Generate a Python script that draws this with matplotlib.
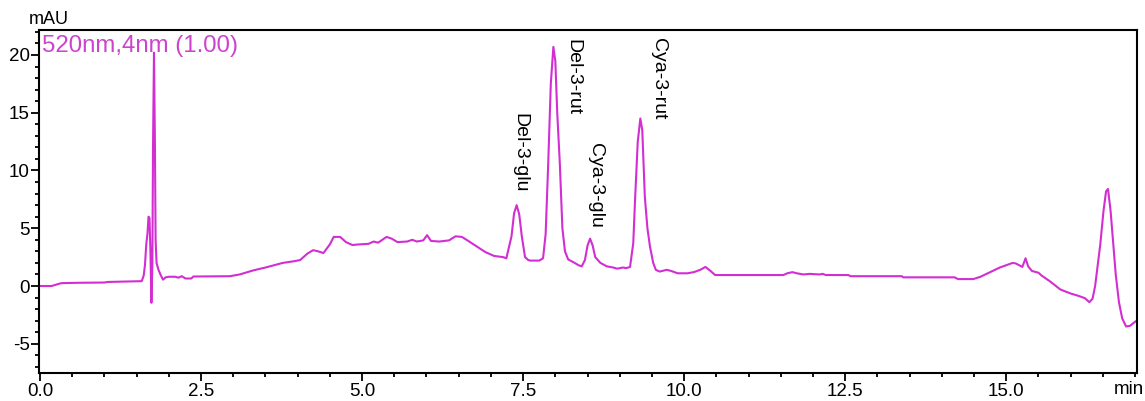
import matplotlib
matplotlib.use("Agg")
import matplotlib.pyplot as plt
from matplotlib.ticker import MultipleLocator

plt.rcParams['font.family'] = ['Liberation Sans', 'DejaVu Sans']

# Retention time (min) and detector response (mAU) at 520 nm
time_min = [
    0.00, 0.18, 0.30, 0.34, 0.60, 1.00, 1.05, 1.30, 1.58, 1.61, 1.63, 1.65,
    1.67, 1.685, 1.70, 1.715, 1.73, 1.745, 1.755, 1.77, 1.785, 1.795, 1.81,
    1.84, 1.87, 1.91, 1.95, 2.00, 2.10, 2.15, 2.20, 2.26, 2.35, 2.38, 2.95,
    3.10, 3.31, 3.50, 3.77, 3.95, 4.04, 4.15, 4.24, 4.32, 4.40, 4.50, 4.56,
    4.66, 4.75, 4.85, 4.95, 5.10, 5.18, 5.25, 5.38, 5.46, 5.55, 5.70, 5.78,
    5.85, 5.95, 6.01, 6.07, 6.20, 6.35, 6.45, 6.55, 6.65, 6.80, 6.91, 7.05,
    7.19, 7.24, 7.27, 7.32, 7.36, 7.40, 7.44, 7.48, 7.53, 7.58, 7.61, 7.75,
    7.81, 7.85, 7.89, 7.93, 7.97, 8.00, 8.03, 8.07, 8.11, 8.15, 8.20, 8.30,
    8.36, 8.41, 8.46, 8.50, 8.54, 8.58, 8.62, 8.70, 8.80, 8.90, 8.96, 9.05,
    9.10, 9.16, 9.21, 9.24, 9.28, 9.32, 9.35, 9.39, 9.43, 9.47, 9.52, 9.56,
    9.62, 9.73, 9.80, 9.90, 10.05, 10.15, 10.25, 10.33, 10.40, 10.48, 11.54,
    11.60, 11.68, 11.75, 11.85, 11.95, 12.10, 12.15, 12.20, 12.55, 12.58,
    13.38, 13.40, 14.20, 14.25, 14.49, 14.60, 14.75, 14.90, 15.00, 15.10,
    15.15, 15.25, 15.30, 15.34, 15.40, 15.50, 15.55, 15.68, 15.84, 16.00,
    16.12, 16.22, 16.29, 16.34, 16.38, 16.42, 16.46, 16.51, 16.55, 16.58,
    16.62, 16.66, 16.70, 16.75, 16.80, 16.86, 16.92, 17.00, 17.05,
]
signal_mau = [
    0.0, 0.0, 0.2, 0.25, 0.28, 0.3, 0.35, 0.38, 0.42, 0.9, 1.8, 3.6,
    4.6, 6.0, 5.9, 3.0, -1.45, 2.0, 12.0, 20.2, 12.0, 4.0, 2.0,
    1.4, 1.0, 0.55, 0.75, 0.8, 0.8, 0.72, 0.85, 0.65, 0.65, 0.82, 0.85,
    1.0, 1.35, 1.6, 2.0, 2.15, 2.25, 2.8, 3.1, 3.0, 2.85, 3.6, 4.25,
    4.25, 3.8, 3.55, 3.6, 3.65, 3.85, 3.75, 4.25, 4.1, 3.8, 3.85, 4.0,
    3.85, 3.95, 4.4, 3.9, 3.85, 3.95, 4.3, 4.25, 3.9, 3.35, 2.95, 2.6,
    2.5, 2.4, 3.1, 4.3, 6.3, 7.0, 6.2, 4.3, 2.5, 2.25, 2.2, 2.2,
    2.4, 4.5, 10.6, 17.5, 20.7, 19.5, 15.0, 10.6, 5.0, 3.0, 2.3, 2.0,
    1.8, 1.7, 2.25, 3.5, 4.1, 3.5, 2.5, 2.0, 1.7, 1.6, 1.5, 1.6,
    1.55, 1.65, 3.7, 7.7, 12.5, 14.5, 13.5, 7.7, 5.0, 3.4, 2.0, 1.4,
    1.25, 1.4, 1.3, 1.1, 1.1, 1.2, 1.4, 1.65, 1.35, 0.95, 0.95,
    1.1, 1.2, 1.1, 1.0, 1.05, 1.0, 1.05, 0.95, 0.95, 0.85,
    0.85, 0.75, 0.75, 0.6, 0.6, 0.8, 1.2, 1.6, 1.8, 2.0,
    1.95, 1.65, 2.4, 1.7, 1.3, 1.15, 0.9, 0.4, -0.3, -0.65,
    -0.85, -1.05, -1.4, -1.1, 0.0, 1.8, 3.6, 6.5, 8.2, 8.4,
    6.5, 3.8, 1.0, -1.4, -2.8, -3.5, -3.45, -3.1, -2.9,
]

# Peak annotations: name, time position, top of label (mAU)
peak_names = ["Del-3-glu", "Del-3-rut", "Cya-3-glu", "Cya-3-rut"]
peak_label_x = [7.45, 8.28, 8.62, 9.60]
peak_label_top = [15.0, 21.4, 12.4, 21.5]

x_ticks = [0.0, 2.5, 5.0, 7.5, 10.0, 12.5, 15.0]
y_ticks = [-5, 0, 5, 10, 15, 20]

trace_color = "#d22ed2"
label_color = "#cc44cc"

fig = plt.figure(figsize=(11.45, 4.01), dpi=100)
ax = fig.add_axes([39 / 1145, 1 - 373 / 401, (1137 - 39) / 1145, (373 - 30) / 401])

ax.plot(time_min, signal_mau, color=trace_color, lw=1.5)

ax.set_xlim(-0.015, 17.03)
ax.set_ylim(-7.53, 22.16)

ax.set_xticks(x_ticks)
ax.set_xticklabels([f"{v:.1f}" for v in x_ticks])
ax.set_yticks(y_ticks)
ax.set_yticklabels([str(v) for v in y_ticks])
ax.xaxis.set_minor_locator(MultipleLocator(0.5))
ax.yaxis.set_minor_locator(MultipleLocator(1))

ax.tick_params(axis="both", which="major", direction="out", length=6, width=1.3,
               labelsize=13.5, color="black")
ax.tick_params(axis="x", which="major", pad=1.5)
ax.tick_params(axis="y", which="major", pad=0.5)
ax.tick_params(axis="both", which="minor", direction="out", length=3, width=1.3)

for sp in ax.spines.values():
    sp.set_linewidth(1.5)
    sp.set_color("black")

for name, xp, yp in zip(peak_names, peak_label_x, peak_label_top):
    ax.text(xp, yp, name, rotation=-90, ha="center", va="top", fontsize=14)

ax.text(0.003, 0.985, "520nm,4nm (1.00)", transform=ax.transAxes,
        ha="left", va="top", fontsize=17.3, color=label_color)

fig.text(29 / 1145, 1 - 20 / 401, "mAU", ha="left", va="center", fontsize=13)
fig.text(1144 / 1145, 1 - 390 / 401, "min", ha="right", va="center", fontsize=13.5)

fig.savefig("out.png", dpi=100, facecolor="white")
